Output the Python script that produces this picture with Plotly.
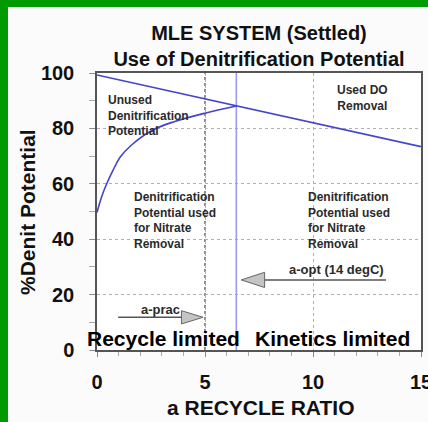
import plotly.graph_objects as go

# ---------------- data ----------------
line_x = [0, 15]
line_y = [99.3, 73.4]

curve_x = [0, 0.2, 0.45, 0.75, 1.06, 1.6, 2.6, 3.6, 5.0, 6.45]
curve_y = [49.6, 55, 60, 65, 69.5, 74, 79.5, 82.5, 85.5, 88.1]

a_opt = 6.45
a_prac = 5.0

x_ticks = [0, 5, 10, 15]
y_ticks = [0, 20, 40, 60, 80, 100]

title_lines = ["MLE SYSTEM (Settled)", "Use of Denitrification Potential"]
x_title = "a RECYCLE RATIO"
y_title = "%Denit Potential"
unused_lines = ["Unused", "Denitrification", "Potential"]
used_do_lines = ["Used DO", "Removal"]
nitrate_lines = ["Denitrification", "Potential used", "for Nitrate", "Removal"]

W, H = 428, 422
ML, MR, MT, MB = 97, 7, 73, 72
PW, PH = W - ML - MR, H - MT - MB

BLUE = "#4444cc"
LIGHTBLUE = "#9a9af2"
GREEN = "#029a02"
TXT = "#2a2a2a"
FONT = "Liberation Sans, Arial, sans-serif"

fig = go.Figure()

fig.add_trace(go.Scatter(x=[a_opt, a_opt], y=[0, 100], mode="lines",
                         line=dict(color=LIGHTBLUE, width=1.6), hoverinfo="skip"))
fig.add_trace(go.Scatter(x=line_x, y=line_y, mode="lines",
                         line=dict(color=BLUE, width=1.6)))
fig.add_trace(go.Scatter(x=curve_x, y=curve_y, mode="lines", line_shape="spline",
                         line=dict(color=BLUE, width=1.6)))

shapes = []
# darker dotted line at a-prac
shapes.append(dict(type="line", xref="x", yref="y", x0=a_prac, x1=a_prac, y0=0, y1=100,
                   line=dict(color="#555555", width=1.3, dash="dot"), layer="below"))

# arrows (line + gray triangle head)
def arrow(x_start, x_tip, y, head_len, head_half):
    direction = 1 if x_tip > x_start else -1
    base = x_tip - direction * head_len
    shapes.append(dict(type="line", xref="x", yref="y", x0=x_start, x1=base, y0=y, y1=y,
                       line=dict(color="#555555", width=1.5)))
    shapes.append(dict(type="path", xref="x", yref="y",
                       path=f"M {x_tip},{y} L {base},{y + head_half} L {base},{y - head_half} Z",
                       fillcolor="#c4c4c4", line=dict(color="#666666", width=1)))

arrow(13.38, a_opt + 0.23, 25.3, 1.08, 2.75)
arrow(0.98, a_prac - 0.09, 11.8, 1.0, 2.4)

# green frame (left and top)
def px_x(p):
    return (p - ML) / PW

def px_y(p):
    return (H - MB - p) / PH

shapes.append(dict(type="rect", xref="paper", yref="paper", x0=px_x(0), x1=px_x(8),
                   y0=px_y(H), y1=px_y(0), fillcolor=GREEN, line=dict(width=0)))
shapes.append(dict(type="rect", xref="paper", yref="paper", x0=px_x(0), x1=px_x(W),
                   y0=px_y(7), y1=px_y(0), fillcolor=GREEN, line=dict(width=0)))

annotations = []

def txt(x, y, lines, size=12, anchor="left", color=TXT, yanchor="top"):
    annotations.append(dict(x=x, y=y, xref="x", yref="y",
                            text="<br>".join(f"<b>{s}</b>" for s in lines), showarrow=False,
                            xanchor=anchor, yanchor=yanchor, align=anchor if anchor != "center" else "center",
                            borderpad=0,
                            font=dict(family=FONT, size=size, color=color)))

txt(0.45, 93.0, unused_lines)
txt(12.3, 96.8, used_do_lines, anchor="center")
txt(1.67, 58.0, nitrate_lines)
txt(9.72, 58.0, nitrate_lines)
txt(11.1, 29.2, ["a-opt (14 degC)"], size=13, anchor="center", yanchor="middle")
txt(2.95, 14.8, ["a-prac"], size=13, anchor="center", yanchor="middle")
txt(3.1, 4.3, ["Recycle limited"], size=21, anchor="center", color="#000000", yanchor="middle")
txt(10.9, 4.3, ["Kinetics limited"], size=21, anchor="center", color="#000000", yanchor="middle")

# axis titles
annotations.append(dict(x=px_x(260), y=px_y(407), xref="paper", yref="paper",
                        text=f"<b>{x_title}</b>", showarrow=False, xanchor="center", yanchor="middle",
                        font=dict(family=FONT, size=21, color="#111111")))
annotations.append(dict(x=px_x(27), y=px_y(212), xref="paper", yref="paper",
                        text=f"<b>{y_title}</b>", showarrow=False, xanchor="center", yanchor="middle",
                        textangle=-90, font=dict(family=FONT, size=21, color="#111111")))

fig.update_layout(
    width=W, height=H,
    margin=dict(l=ML, r=MR, t=MT, b=MB, autoexpand=False),
    paper_bgcolor="#fbfbfb",
    plot_bgcolor="#ffffff",
    showlegend=False,
    shapes=shapes,
    annotations=annotations,
    title=dict(text="<b>" + "<br>".join(title_lines) + "</b>", x=0.5,
               xref="paper", xanchor="center", yref="container", y=1 - 40 / H, yanchor="middle",
               font=dict(family=FONT, size=20, color="#111111")),
)

axis_common = dict(
    showline=True, linecolor="#555555", linewidth=1.5, mirror=True,
    ticks="outside", ticklen=5, tickcolor="#888888",
    showgrid=True, gridcolor="#b0b0b0", griddash="dot", gridwidth=1,
    zeroline=False, ticklabeloverflow="allow",
    tickfont=dict(family=FONT, size=20, color="#111111", weight="bold"),
)

fig.update_xaxes(range=[0, 15], tickvals=x_ticks, ticktext=[str(v) for v in x_ticks],
                 ticklabelstandoff=8,
                 minor=dict(dtick=1, ticks="outside", ticklen=4, tickcolor="#aaaaaa", showgrid=False),
                 **axis_common)
fig.update_yaxes(range=[0, 100], tickvals=y_ticks, ticktext=[str(v) for v in y_ticks],
                 ticklabelstandoff=12,
                 minor=dict(dtick=10, ticks="outside", ticklen=6, tickcolor="#aaaaaa", showgrid=False),
                 **axis_common)

fig.write_html("out.html", config={"displayModeBar": False},
               post_script="document.body.style.margin='0';document.body.style.overflow='hidden';")
